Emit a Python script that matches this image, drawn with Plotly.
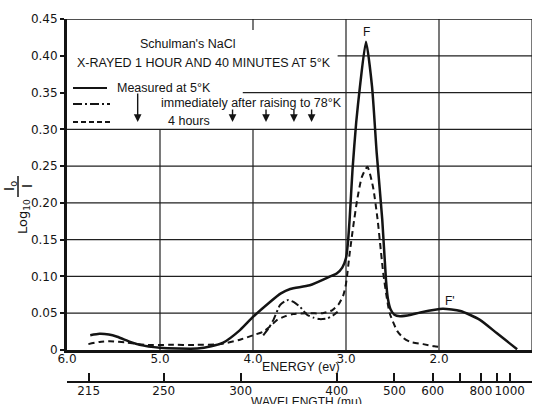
import plotly.graph_objects as go

# ---------------- data ----------------
# Measured at 5 K (solid)
e_meas = [5.75, 5.65, 5.55, 5.46, 5.32, 5.22, 5.00, 4.80, 4.60, 4.45, 4.32, 4.14, 4.00, 3.82, 3.70,
          3.60, 3.39, 3.17, 3.10, 3.04, 3.00, 2.98, 2.96, 2.93, 2.89, 2.85, 2.785, 2.72, 2.67, 2.61,
          2.57, 2.55, 2.52, 2.48, 2.42, 2.30, 2.20, 1.96, 1.77, 1.56, 1.38, 1.24, 1.16]
v_meas = [0.020, 0.022, 0.021, 0.018, 0.011, 0.007, 0.003, 0.002, 0.002, 0.005, 0.010, 0.027, 0.045,
          0.065, 0.077, 0.083, 0.088, 0.100, 0.104, 0.112, 0.125, 0.145, 0.180, 0.245, 0.310, 0.358,
          0.419, 0.358, 0.268, 0.177, 0.095, 0.070, 0.055, 0.048, 0.046, 0.048, 0.051, 0.056, 0.053,
          0.041, 0.023, 0.009, 0.001]

# Immediately after raising to 78 K (dash-dot)
e_78 = [3.89, 3.83, 3.78, 3.71, 3.66, 3.62, 3.56, 3.49, 3.42, 3.35, 3.28, 3.20, 3.14, 3.09]
v_78 = [0.020, 0.030, 0.041, 0.061, 0.066, 0.068, 0.065, 0.058, 0.048, 0.044, 0.042, 0.043, 0.047, 0.052]

# 4 hours (dashed)
e_4h = [5.77, 5.65, 5.54, 5.35, 5.15, 4.90, 4.60, 4.35, 4.14, 4.00, 3.89, 3.80, 3.74, 3.65, 3.57,
        3.42, 3.25, 3.15, 3.08, 3.03, 3.00, 2.96, 2.92, 2.88, 2.83, 2.77, 2.71, 2.66, 2.60, 2.56,
        2.53, 2.45, 2.38, 2.31, 2.17, 2.05, 1.99]
v_4h = [0.008, 0.011, 0.012, 0.010, 0.007, 0.007, 0.007, 0.008, 0.014, 0.020, 0.025, 0.034, 0.041,
        0.046, 0.049, 0.050, 0.050, 0.054, 0.062, 0.074, 0.090, 0.132, 0.170, 0.204, 0.235, 0.249,
        0.222, 0.177, 0.105, 0.070, 0.050, 0.026, 0.016, 0.011, 0.008, 0.005, 0.004]

energy_ticks = [6.0, 5.0, 4.0, 3.0, 2.0, 1.0]
energy_labels = ["6.0", "5.0", "4.0", "3.0", "2.0", "1."]
y_ticks = [0, 0.05, 0.10, 0.15, 0.20, 0.25, 0.30, 0.35, 0.40, 0.45]
y_labels = ["0", "0.05", "0.10", "0.15", "0.20", "0.25", "0.30", "0.35", "0.40", "0.45"]
wavelengths = [215, 250, 300, 400, 500, 600, 700, 800, 900, 1000]
wavelength_labels = ["215", "250", "300", "400", "500", "600", "", "800", "", "1000"]
arrow_energies = [5.24, 4.22, 3.86, 3.56, 3.37]

# ---------------- layout helpers ----------------
W, H = 534, 404
ML, MR, MT, MB = 67, 2, 19, 22
PW, PH = W - ML - MR, H - MT - MB
Y0PX = 350  # pixel row of the energy axis


def px(x):
    return (x - ML) / PW


def py(y):
    return (H - MB - y) / PH


INK = "#141414"
FONT = "Liberation Sans"
TICKFONT = "DejaVu Sans"

fig = go.Figure()
fig.add_trace(go.Scatter(x=e_meas, y=v_meas, mode="lines", line=dict(color=INK, width=2.5, shape="spline", smoothing=0.6),
                         showlegend=False, hoverinfo="skip"))
fig.add_trace(go.Scatter(x=e_78, y=v_78, mode="lines", line=dict(color=INK, width=2, dash="8px,3px,2px,3px", shape="spline", smoothing=0.6),
                         showlegend=False, hoverinfo="skip"))
fig.add_trace(go.Scatter(x=e_4h, y=v_4h, mode="lines", line=dict(color=INK, width=2, dash="6px,4px", shape="spline", smoothing=0.6),
                         showlegend=False, hoverinfo="skip"))
# carrier for wavelength axis
fig.add_trace(go.Scatter(x=[6, 1], y=[None, None], xaxis="x2", mode="lines", showlegend=False, hoverinfo="skip"))

shapes = []
gl = dict(color="#202020", width=1.2)
# horizontal grid lines
for v in y_ticks[1:7]:
    shapes.append(dict(type="line", xref="x", yref="y", x0=6, x1=1, y0=v, y1=v, line=gl, layer="below"))
shapes.append(dict(type="line", xref="x", yref="y", x0=4.11, x1=1, y0=0.35, y1=0.35, line=gl, layer="below"))
shapes.append(dict(type="line", xref="x", yref="y", x0=3.09, x1=1, y0=0.40, y1=0.40, line=gl, layer="below"))
shapes.append(dict(type="line", xref="x", yref="y", x0=6, x1=1, y0=0.45, y1=0.45, line=dict(color=INK, width=1.6), layer="below"))
# vertical grid lines
shapes.append(dict(type="line", xref="x", yref="y", x0=5, x1=5, y0=0, y1=0.30, line=gl, layer="below"))
shapes.append(dict(type="line", xref="x", yref="y", x0=4, x1=4, y0=0, y1=0.30, line=gl, layer="below"))
shapes.append(dict(type="line", xref="x", yref="y", x0=4, x1=4, y0=0.435, y1=0.45, line=gl, layer="below"))
for e in [3.0, 2.0, 1.0]:
    shapes.append(dict(type="line", xref="x", yref="y", x0=e, x1=e, y0=0, y1=0.45, line=gl, layer="below"))

# legend keys
shapes.append(dict(type="line", xref="paper", yref="paper", x0=px(73), x1=px(107), y0=py(88), y1=py(88), line=dict(color=INK, width=2.2)))
shapes.append(dict(type="line", xref="paper", yref="paper", x0=px(73), x1=px(110), y0=py(104), y1=py(104), line=dict(color=INK, width=2, dash="9px,3px,2px,3px")))
shapes.append(dict(type="line", xref="paper", yref="paper", x0=px(73), x1=px(110), y0=py(122), y1=py(122), line=dict(color=INK, width=2, dash="5px,3px")))
# fraction bar of y title
shapes.append(dict(type="line", xref="paper", yref="paper", x0=px(18), x1=px(18), y0=py(176), y1=py(197), line=dict(color=INK, width=1.5)))

ann = []
tf = dict(family=FONT, size=12, color=INK)


def txt(x, y, s, xanchor="left", size=12, angle=0, yanchor="middle", family=FONT):
    ann.append(dict(xref="paper", yref="paper", x=px(x), y=py(y), text=s, showarrow=False,
                    xanchor=xanchor, yanchor=yanchor, textangle=angle,
                    font=dict(family=family, size=size, color=INK)))


txt(138, 44, "Schulman's NaCl", size=12.5)
txt(75, 63, "X-RAYED 1 HOUR AND 40 MINUTES AT 5°K", size=12.5)
txt(115, 88, "Measured at 5°K", size=12.5)
txt(159, 103, "immediately after raising to 78°K", size=12.5)
txt(166, 121, "4 hours", size=12.5)
txt(301, 367, "ENERGY (ev)", xanchor="center", size=12.5)
txt(306, 402, "WAVELENGTH (mμ)", xanchor="center", size=12)
txt(24, 217, "Log<sub>10</sub>", xanchor="center", angle=-90, size=13, family=TICKFONT)
txt(10, 186, "I<sub>o</sub>", xanchor="center", angle=-90, size=14, family=TICKFONT)
txt(27, 186, "I", xanchor="center", angle=-90, size=14, family=TICKFONT)

ann.append(dict(x=2.785, y=0.433, xref="x", yref="y", text="F", showarrow=False, font=tf))
ann.append(dict(x=1.88, y=0.067, xref="x", yref="y", text="F'", showarrow=False, font=tf))

for i, e in enumerate(arrow_energies):
    ann.append(dict(x=e, y=0.31, xref="x", yref="y", ax=0, ay=-30 if i == 0 else -14, text="",
                    showarrow=True, arrowhead=2, arrowsize=1.1, arrowwidth=1.4, arrowcolor=INK))

fig.update_layout(
    width=W, height=H,
    margin=dict(l=ML, r=MR, t=MT, b=MB),
    paper_bgcolor="white", plot_bgcolor="white",
    shapes=shapes, annotations=ann,
    xaxis=dict(range=[6.0, 1.0], tickvals=energy_ticks, ticktext=energy_labels, showgrid=False,
               zeroline=False, showline=True, linewidth=3, linecolor=INK, ticks="",
               ticklabelstandoff=-4,
               tickfont=dict(family=TICKFONT, size=12, color=INK), anchor="y"),
    xaxis2=dict(range=[6.0, 1.0], overlaying="x", anchor="free", position=0, side="bottom",
                tickvals=[1240.0 / w for w in wavelengths], ticktext=wavelength_labels,
                showgrid=False, zeroline=False, showline=True, linewidth=2, linecolor=INK,
                ticks="inside", ticklen=8, tickwidth=1.5, tickcolor=INK,
                ticklabelstandoff=-2,
                tickfont=dict(family=TICKFONT, size=12, color=INK)),
    yaxis=dict(range=[0, 0.45], domain=[(H - MB - Y0PX) / PH, 1], tickvals=y_ticks, ticktext=y_labels,
               showgrid=False, zeroline=False, showline=True, linewidth=3, linecolor=INK,
               ticks="outside", ticklen=4, tickwidth=1.5, tickcolor=INK,
               tickfont=dict(family=TICKFONT, size=12, color=INK)),
    showlegend=False,
)

fig.write_html("out.html")
